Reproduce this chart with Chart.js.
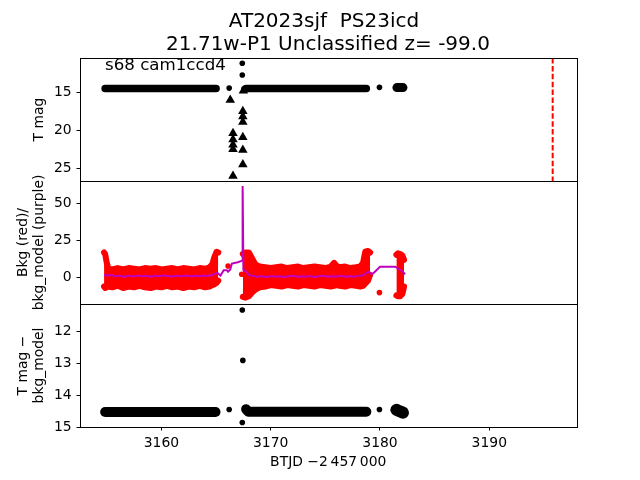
<!DOCTYPE html>
<html>
<head>
<meta charset="utf-8">
<script src="https://cdn.jsdelivr.net/npm/chart.js@4.4.1/dist/chart.umd.min.js"></script>
<style>
  body { margin: 0; background: #fff; }
  #wrap { position: relative; width: 640px; height: 480px; }
  #wrap canvas { position: absolute; left: 0; top: 0; }
</style>
</head>
<body>
<div id="wrap">
  <canvas id="magChart" width="640" height="480"></canvas>
  <canvas id="bkgChart" width="640" height="480"></canvas>
  <canvas id="diffChart" width="640" height="480"></canvas>
</div>
<script>
// Textos
const titleLines = ['AT2023sjf  PS23icd', '21.71w-P1 Unclassified z= -99.0'];
const fieldLabel = 's68 cam1ccd4';

// Ejes: límites y marcas
const xLimits = [3152.55, 3197.98];
const xTicks = [3160, 3170, 3180, 3190];
const magLimits = [10.49, 26.67];
const magTicks = [15, 20, 25];
const bkgLimits = [-17.8, 65.3];
const bkgTicks = [0, 25, 50];
const diffLimits = [11.14, 15.0];
const diffTicks = [12, 13, 14, 15];

// Panel 1: T mag (tramos densos, puntos sueltos, límites superiores)
const magRunX = [[3154.85, 3165.0], [3167.75, 3178.75], [3181.55, 3182.1]];
const magRunY = [[14.5, 14.5], [14.5, 14.5], [14.38, 14.38]];
const magDotX = [3166.2, 3167.4, 3167.4, 3167.55, 3179.95];
const magDotY = [14.45, 11.18, 12.72, 14.55, 14.35];
const limitX = [3166.3, 3166.55, 3166.55, 3166.55, 3166.55, 3166.55, 3167.45, 3167.45, 3167.45, 3167.45, 3167.45, 3167.45, 3167.5];
const limitY = [16.0, 20.4, 21.2, 21.9, 22.5, 26.0, 17.5, 18.2, 18.9, 20.9, 22.6, 24.5, 14.8];
const markerX = 3195.8;

// Panel 2: fondo (rojo, banda por tramos) y modelo (morado)
const bkgBandX = [
  [3154.75, 3154.85, 3155.0, 3155.15, 3155.5, 3156.0, 3156.5, 3157.0, 3157.5, 3158.0, 3158.5, 3159.0, 3159.5, 3160.0, 3160.5, 3161.0, 3161.5, 3162.0, 3162.5, 3163.0, 3163.5, 3164.0, 3164.4, 3164.65, 3164.85, 3165.05, 3165.2],
  [3167.45, 3167.7, 3168.0, 3168.3, 3168.6, 3169.0, 3169.5, 3170.0, 3170.5, 3171.0, 3171.5, 3172.0, 3172.5, 3173.0, 3173.5, 3174.0, 3174.5, 3175.0, 3175.5, 3175.8, 3176.0, 3176.3, 3176.8, 3177.3, 3177.8, 3178.2, 3178.45, 3178.65, 3178.9, 3179.1],
  [3181.5, 3181.65, 3181.85, 3182.05, 3182.2]
];
const bkgBandHigh = [
  [17, 16, 10, 6, 5.5, 6.5, 5.5, 6.5, 6, 5.5, 6.5, 6, 6.5, 5.5, 6, 6.5, 5.5, 6.5, 6, 5.5, 6.5, 6, 7, 9, 14, 17.5, 17],
  [16, 17, 17, 13, 9, 7.5, 7, 6.5, 7, 7.5, 6.5, 7, 7.5, 6.5, 7, 7.5, 7, 6.5, 7.5, 10, 8, 7, 7.5, 6.5, 7, 7.5, 10, 17.5, 18, 17],
  [15.5, 16.5, 16, 15, 12]
];
const bkgBandLow = [
  [-6, -7, -6.5, -6, -6.5, -5.5, -7, -6, -6.5, -5.5, -6.5, -7, -6, -6.5, -5.5, -6.5, -6, -7, -6, -6.5, -5.5, -6.5, -6, -5, -4.5, -3.5, -2],
  [-13, -13.5, -12.5, -10, -8, -6.5, -6, -5, -5.5, -6, -5, -5.5, -6, -5, -5.5, -6, -5, -5.5, -6, -5.5, -5, -5.5, -6, -5, -5.5, -6, -5.5, -4, -2, 2],
  [-12, -12.5, -12.5, -11, -6]
];
const bkgDotX = [3166.1, 3167.35, 3179.95];
const bkgDotY = [7.9, 2.3, -10.1];
const bkgModelX = [3154.75, 3155.0, 3155.4, 3155.8, 3156.2, 3156.6, 3157.0, 3157.4, 3157.8, 3158.2, 3158.6, 3159.0, 3159.4, 3159.8, 3160.2, 3160.6, 3161.0, 3161.4, 3161.8, 3162.2, 3162.6, 3163.0, 3163.4, 3163.8, 3164.2, 3164.6, 3164.9, 3165.1, 3165.4, 3165.7, 3166.0, 3166.1, 3166.3, 3166.45, 3167.0, 3167.38, 3167.43, 3167.5, 3167.8, 3168.0, 3168.4, 3168.8, 3169.2, 3169.6, 3170.0, 3170.4, 3170.8, 3171.2, 3171.6, 3172.0, 3172.4, 3172.8, 3173.2, 3173.6, 3174.0, 3174.4, 3174.8, 3175.2, 3175.6, 3176.0, 3176.4, 3176.8, 3177.2, 3177.6, 3178.0, 3178.4, 3178.6, 3178.9, 3179.2, 3179.4, 3180.0, 3181.4, 3182.0, 3182.3];
const bkgModelY = [2.0, 1.5, 1.8, 0.9, 1.3, 0.6, 1.2, 0.8, 1.4, 1.0, 1.3, 0.7, 1.2, 1.0, 1.5, 1.1, 0.8, 1.3, 1.0, 1.4, 0.9, 1.2, 1.0, 1.4, 1.1, 1.6, 2.5, 3.4, 1.4, 5.0, 5.0, 4.0, 5.5, 9.5, 10.4, 11.5, 62, 5.2, 4.0, 1.8, 1.2, 0.6, 1.0, 0.5, 1.1, 0.7, 1.0, 0.4, 0.9, 1.2, 0.6, 1.0, 0.7, 1.1, 0.5, 0.9, 1.2, 0.6, 1.0, 0.8, 1.3, 0.7, 1.0, 0.6, 1.2, 1.5, 2.5, 4.0, 2.5, 3.0, 7.4, 7.4, 4.5, 2.3];

// Panel 3: T mag - bkg_model
const diffRunX = [[3154.85, 3164.95], [3167.75, 3167.95, 3178.75], [3181.5, 3181.75, 3182.1]];
const diffRunY = [[14.53, 14.53], [14.44, 14.52, 14.52], [14.46, 14.5, 14.55]];
const diffDotX = [3166.2, 3167.4, 3167.45, 3167.4, 3179.95];
const diffDotY = [14.45, 11.33, 12.91, 14.86, 14.45];

Chart.defaults.font.family = "'DejaVu Sans'";
Chart.defaults.font.size = 13.9;
Chart.defaults.color = '#000';

const toPoints = (xs, ys) => xs.map((x, i) => ({x: x, y: ys[i]}));

function runDataset(xs, ys, width) {
  return {
    type: 'line', data: toPoints(xs, ys),
    borderColor: '#000', borderWidth: width,
    borderCapStyle: 'round', borderJoinStyle: 'round',
    pointRadius: 0, fill: false
  };
}

function dotDataset(xs, ys, color, style, r) {
  return {
    type: 'scatter', data: toPoints(xs, ys),
    backgroundColor: color, borderColor: color, borderWidth: 0,
    pointStyle: style, pointRadius: r
  };
}

const tickGrid = {drawOnChartArea: false, drawTicks: true, tickLength: 3.5, tickColor: '#000', tickWidth: 1};

function yAxis(limits, ticks, reverse, title, titlePad) {
  return {
    type: 'linear', min: limits[0], max: limits[1], reverse: reverse,
    afterBuildTicks: ax => { ax.ticks = ticks.map(v => ({value: v})); },
    afterFit: ax => { ax.width = 80; },
    grid: tickGrid,
    border: {display: false},
    ticks: {padding: 4.9, color: '#000', autoSkip: false, callback: v => String(v)},
    title: {display: true, text: title, color: '#000', font: {size: 13.9, lineHeight: 1.16}, padding: {top: titlePad, bottom: 0}}
  };
}

const hiddenX = {type: 'linear', display: false, min: xLimits[0], max: xLimits[1]};

// Marco negro alrededor de cada panel
const framePlugin = {
  id: 'frame',
  afterDraw(chart) {
    const {ctx, chartArea: a} = chart;
    ctx.save();
    ctx.strokeStyle = '#000';
    ctx.lineWidth = 1;
    ctx.strokeRect(Math.round(a.left) + 0.5, Math.round(a.top) + 0.5, Math.round(a.right - a.left), Math.round(a.bottom - a.top));
    ctx.restore();
  }
};

// Título y etiqueta del sector
const textPlugin = {
  id: 'texts',
  afterDraw(chart) {
    const ctx = chart.ctx;
    ctx.save();
    ctx.fillStyle = '#000';
    ctx.textBaseline = 'alphabetic';
    ctx.font = "20px 'DejaVu Sans'";
    ctx.textAlign = 'center';
    ctx.fillText(titleLines[0], 324, 27.2);
    ctx.fillText(titleLines[1], 328, 49.6);
    ctx.font = "16.67px 'DejaVu Sans'";
    ctx.textAlign = 'left';
    ctx.fillText(fieldLabel, 105, 70);
    ctx.restore();
  }
};

function baseOptions(padding, scales) {
  return {
    responsive: false, animation: false, events: [],
    layout: {padding: padding, autoPadding: false},
    plugins: {legend: {display: false}, tooltip: {enabled: false}},
    scales: scales
  };
}

// Panel 1
const magSets = [];
magRunX.forEach((xs, i) => magSets.push(runDataset(xs, magRunY[i], i === 2 ? 9 : 7.5)));
magSets.push(dotDataset(magDotX, magDotY, '#000', 'circle', 2.8));
magSets.push(dotDataset(limitX, limitY, '#000', 'triangle', 5.5));
magSets.push({
  type: 'line', data: [{x: markerX, y: magLimits[0]}, {x: markerX, y: magLimits[1]}],
  borderColor: '#ff0000', borderWidth: 2, borderDash: [5.5, 2.4], pointRadius: 0, fill: false
});

new Chart(document.getElementById('magChart'), {
  type: 'scatter',
  data: {datasets: magSets},
  options: baseOptions({left: 0, right: 63.5, top: 58, bottom: 299},
    {x: hiddenX, y: yAxis(magLimits, magTicks, true, 'T mag', 31)}),
  plugins: [framePlugin, textPlugin]
});

// Panel 2
const bkgSets = [{
  type: 'line', data: toPoints(bkgModelX, bkgModelY),
  borderColor: '#bf00bf', borderWidth: 2, pointRadius: 0, fill: false
}];
bkgBandX.forEach((xs, i) => {
  bkgSets.push({
    type: 'line', data: toPoints(xs, bkgBandHigh[i]),
    borderColor: '#ff0000', backgroundColor: '#ff0000', borderWidth: 6,
    borderJoinStyle: 'round', borderCapStyle: 'round', pointRadius: 0, fill: '+1'
  });
  bkgSets.push({
    type: 'line', data: toPoints(xs, bkgBandLow[i]),
    borderColor: '#ff0000', borderWidth: 6,
    borderJoinStyle: 'round', borderCapStyle: 'round', pointRadius: 0, fill: false
  });
});
bkgSets.push(dotDataset(bkgDotX, bkgDotY, '#ff0000', 'circle', 2.8));

new Chart(document.getElementById('bkgChart'), {
  type: 'scatter',
  data: {datasets: bkgSets},
  options: baseOptions({left: 0, right: 63.5, top: 181, bottom: 176},
    {x: hiddenX, y: yAxis(bkgLimits, bkgTicks, false, ['Bkg (red)/', 'bkg_model (purple)'], 15)}),
  plugins: [framePlugin]
});

// Panel 3
const diffSets = [];
diffRunX.forEach((xs, i) => diffSets.push(runDataset(xs, diffRunY[i], i === 2 ? 12 : 10)));
diffSets.push(dotDataset(diffDotX, diffDotY, '#000', 'circle', 2.8));

new Chart(document.getElementById('diffChart'), {
  type: 'scatter',
  data: {datasets: diffSets},
  options: baseOptions({left: 0, right: 63.5, top: 304, bottom: 0}, {
    x: {
      type: 'linear', min: xLimits[0], max: xLimits[1],
      afterBuildTicks: ax => { ax.ticks = xTicks.map(v => ({value: v})); },
      afterFit: ax => { ax.height = 53; },
      grid: tickGrid,
      border: {display: false},
      ticks: {padding: 4.45, color: '#000', maxRotation: 0, autoSkip: false, callback: v => String(v)},
      title: {display: true, text: 'BTJD \u22122\u2009457\u2009000', color: '#000', font: {size: 13.9, lineHeight: 1.16}, padding: {top: 0, bottom: 9.75}}
    },
    y: yAxis(diffLimits, diffTicks, true, ['T mag \u2212', 'bkg_model'], 15)
  }),
  plugins: [framePlugin]
});
</script>
</body>
</html>
